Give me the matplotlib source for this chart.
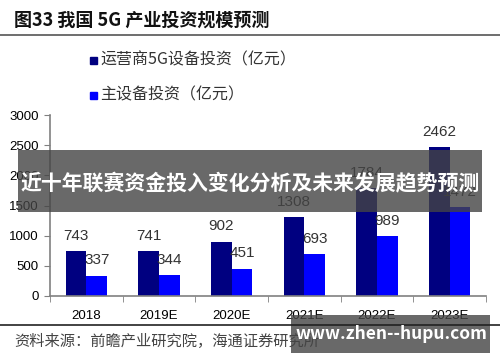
import numpy as np
import matplotlib.pyplot as plt
from matplotlib.patches import Rectangle

plt.rcParams['font.family'] = ['Liberation Sans', 'Noto Sans CJK SC', 'DejaVu Sans']

years = ['2018', '2019E', '2020E', '2021E', '2022E', '2023E']
operator_5g = [743, 741, 902, 1308, 1784, 2462]
main_equip = [337, 344, 451, 693, 989, 1472]

W, H = 500, 362
fig = plt.figure(figsize=(W / 100, H / 100), dpi=100)

def fx(px):
    return px / W

def fy(py):
    return 1 - py / H

# title and top rule
fig.text(fx(14), fy(20), '图33 我国 5G 产业投资规模预测', fontsize=13, fontweight='bold',
         family=['Noto Sans CJK SC'], va='center', ha='left', color='#111111')
fig.add_artist(plt.Line2D([0, 1], [fy(35), fy(35)], color='#555555', lw=1.2))

# legend
fig.add_artist(Rectangle((fx(90), fy(64)), fx(7), 7 / H, color='#000080'))
fig.text(fx(100), fy(60), '运营商5G设备投资（亿元）', fontsize=11.5, va='center',
         family=['Noto Sans CJK SC'], color='#333333')
fig.add_artist(Rectangle((fx(90), fy(99)), fx(7), 7 / H, color='#0000FF'))
fig.text(fx(100), fy(95), '主设备投资（亿元）', fontsize=11.5, va='center',
         family=['Noto Sans CJK SC'], color='#333333')

# main axes
ax = fig.add_axes([fx(50), fy(296), fx(486 - 50), (296 - 115) / H])
x = np.arange(len(years))
w = 0.285
b1 = ax.bar(x - w / 2, operator_5g, w, color='#000080')
b2 = ax.bar(x + w / 2, main_equip, w, color='#0000FF')
for rect, v in zip(b1, operator_5g):
    ax.annotate(str(v), (rect.get_x() + rect.get_width() / 2, v), xytext=(0, 6),
                textcoords='offset points', ha='center', va='bottom', fontsize=11, color='#333333')
for rect, v in zip(b2, main_equip):
    ax.annotate(str(v), (rect.get_x() + rect.get_width() / 2, v), xytext=(0, 6),
                textcoords='offset points', ha='center', va='bottom', fontsize=11, color='#333333')

ax.set_xlim(-0.5, len(years) - 0.5)
ax.set_ylim(0, 3000)
ax.set_yticks(range(0, 3001, 500))
ax.set_xticks(x)
ax.set_xticklabels(years)
ax.set_xticks(np.arange(-0.5, len(years)), minor=True)
ax.tick_params(axis='x', which='major', length=0, pad=10, labelsize=9.5)
ax.tick_params(axis='x', which='minor', length=4, color='#808080')
ax.tick_params(axis='y', length=4, color='#808080', labelsize=9.5, pad=4)
for s in ['top', 'right']:
    ax.spines[s].set_visible(False)
for s in ['left', 'bottom']:
    ax.spines[s].set_color('#808080')
    ax.spines[s].set_linewidth(1.2)

# bottom rule and source
fig.add_artist(plt.Line2D([0, 1], [fy(325), fy(325)], color='#222222', lw=1.2))
fig.text(fx(14), fy(341), '资料来源：前瞻产业研究院，海通证券研究所', fontsize=11, va='center',
         family=['Noto Sans CJK SC'], color='#444444')

# overlays
fig.add_artist(Rectangle((fx(18), fy(212)), fx(482 - 18), (212 - 150) / H,
                         color='#444444', alpha=0.8, lw=0))
fig.text(fx(250), fy(184), '近十年联赛资金投入变化分析及未来发展趋势预测', fontsize=15,
         fontweight='bold', family=['Noto Sans CJK SC'], color='white', ha='center', va='center')
fig.add_artist(Rectangle((fx(291), fy(353)), fx(490 - 291), (353 - 315) / H,
                         color='#444444', alpha=0.8, lw=0))
fig.text(fx(391), fy(334), 'www.zhen--hupu.com', fontsize=12.5, fontweight='bold',
         family=['Noto Sans CJK SC'], color='white', ha='center', va='center')

fig.savefig('out.png', dpi=100)
